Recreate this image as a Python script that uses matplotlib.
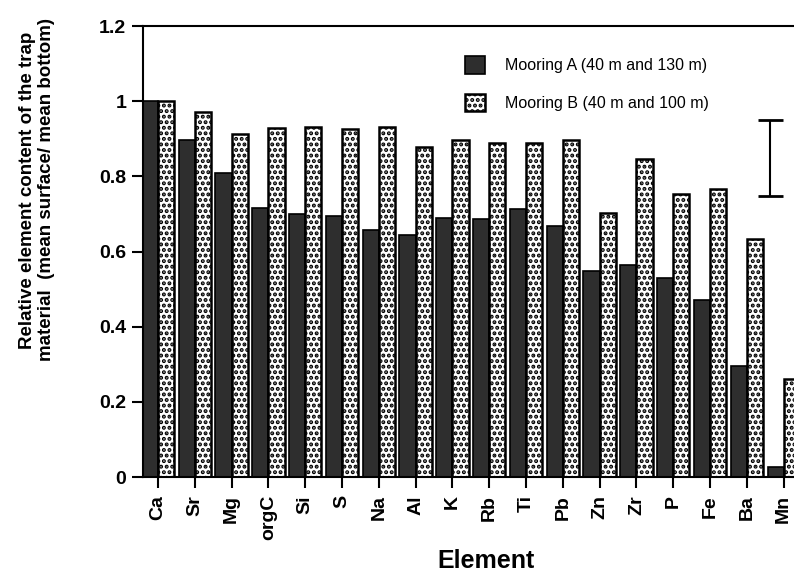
import numpy as np
import matplotlib.pyplot as plt

plt.rcParams['font.family'] = ['Liberation Sans', 'DejaVu Sans']
plt.rcParams['hatch.linewidth'] = 2.0

elements = ["Ca", "Sr", "Mg", "orgC", "Si", "S", "Na", "Al", "K", "Rb",
            "Ti", "Pb", "Zn", "Zr", "P", "Fe", "Ba", "Mn"]
mooring_a = [1.0, 0.898, 0.808, 0.717, 0.701, 0.695, 0.657, 0.645, 0.690, 0.687,
             0.712, 0.669, 0.549, 0.565, 0.530, 0.471, 0.295, 0.026]
mooring_b = [1.0, 0.972, 0.914, 0.929, 0.931, 0.925, 0.931, 0.878, 0.896, 0.889,
             0.889, 0.896, 0.703, 0.847, 0.753, 0.766, 0.634, 0.262]
label_a = "Mooring A (40 m and 130 m)"
label_b = "Mooring B (40 m and 100 m)"
yticks = [0, 0.2, 0.4, 0.6, 0.8, 1.0, 1.2]
ytick_labels = ["0", "0.2", "0.4", "0.6", "0.8", "1", "1.2"]
# typical error shown as a bar at the right
err_x = 16.63
err_mid = 0.849
err_half = 0.10

fig = plt.figure(figsize=(7.94, 5.73), dpi=100)
ax = fig.add_axes([0.180, 0.1675, 0.820, 0.7871])

x = np.arange(len(elements))
w = 0.44
ax.bar(x - w / 2, mooring_a, w, color="#2e2e2e", edgecolor="black",
       linewidth=1.2, label=label_a)
ax.bar(x + w / 2, mooring_b, w, color="white", edgecolor="black",
       hatch="...", linewidth=1.8, label=label_b)

ax.errorbar([err_x], [err_mid], yerr=[err_half], fmt="none", ecolor="black",
            elinewidth=1.5, capsize=9, capthick=2)

ax.set_xlim(-0.41, 17.28)
ax.set_ylim(0, 1.2)
ax.set_yticks(yticks)
ax.set_yticklabels(ytick_labels)
ax.set_xticks(x)
ax.set_xticklabels(elements, rotation=90)

for lab in ax.get_xticklabels() + ax.get_yticklabels():
    lab.set_fontweight("bold")
    lab.set_fontsize(14)

ax.tick_params(axis="both", direction="out", length=8, width=1.5, color="black")
ax.tick_params(axis="y", pad=4)
ax.tick_params(axis="x", pad=5)
ax.spines["right"].set_visible(False)
for s in ["left", "bottom", "top"]:
    ax.spines[s].set_linewidth(1.5)

leg = ax.legend(loc="upper left", bbox_to_anchor=(0.472, 0.965), frameon=False,
                fontsize=11.5, handlelength=1.3, handleheight=1.3,
                handletextpad=1.2, labelspacing=1.25)

fig.text(37 / 794, 1 - 190 / 573,
         "Relative element content of the trap\nmaterial  (mean surface/ mean bottom)",
         rotation=90, ha="center", va="center", fontsize=13.5, fontweight="bold",
         multialignment="center", linespacing=1.1)
fig.text(486 / 794, 1 - 561 / 573, "Element", ha="center", va="center",
         fontsize=18, fontweight="bold")

fig.savefig("out.png", dpi=100)
